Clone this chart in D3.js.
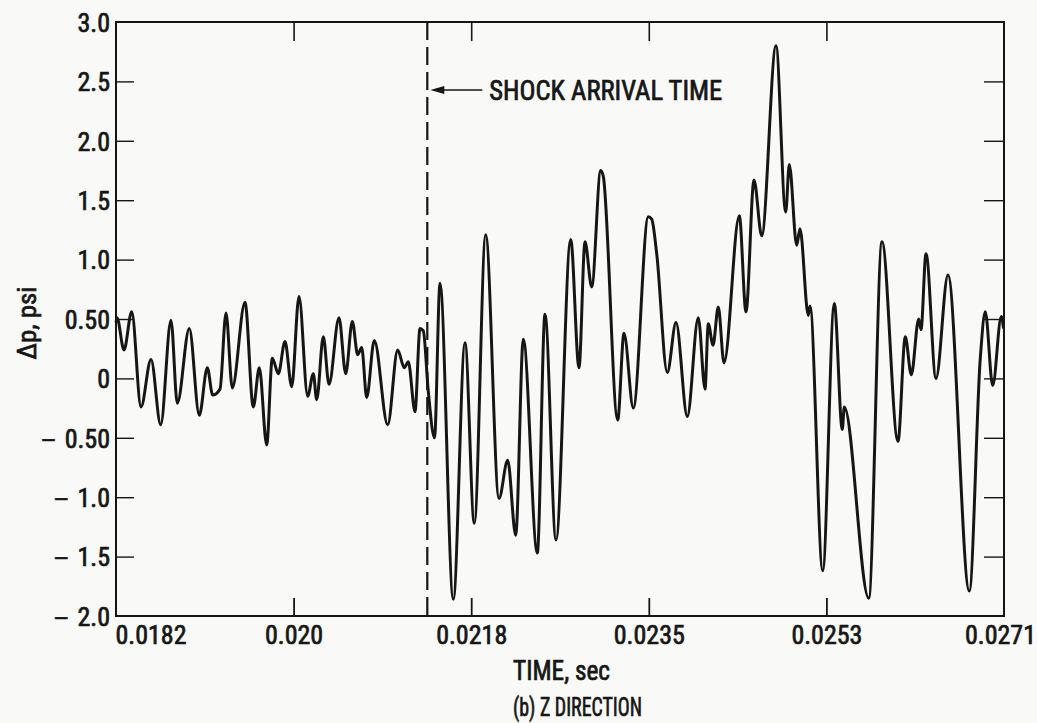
<!DOCTYPE html>
<html><head><meta charset="utf-8">
<script src="https://cdn.jsdelivr.net/npm/d3@7"></script>
<style>
body{margin:0;background:#f9f9f7}
text{font-family:'Roboto Condensed','Liberation Sans Narrow','DejaVu Sans Condensed',sans-serif;fill:#161616;font-weight:normal;stroke:#161616;stroke-width:0.7px}
</style>
</head><body>
<svg id="c" width="1037" height="723"></svg>
<script>
// ---- data ----
const timeSec = [0.0182000,0.0182100,0.0182802,0.0183574,0.0184506,0.0185508,0.0186480,0.0187512,0.0188144,0.0189346,
0.0190349,0.0191151,0.0191692,0.0192423,0.0193025,0.0193656,0.0194929,0.0195761,0.0196362,0.0197104,
0.0197665,0.0198267,0.0198938,0.0199610,0.0200341,0.0201213,0.0201774,0.0202115,0.0202777,0.0203348,
0.0204350,0.0205022,0.0205683,0.0206224,0.0206625,0.0207126,0.0207888,0.0209231,0.0210233,0.0210895,
0.0211296,0.0211967,0.0212468,0.0212799,0.0213300,0.0213922,0.0214473,0.0215806,0.0216979,0.0217911,
0.0219053,0.0220386,0.0221258,0.0222060,0.0222822,0.0224225,0.0224997,0.0226099,0.0227572,0.0228404,
0.0229006,0.0229677,0.0230579,0.0230840,0.0232283,0.0232914,0.0233846,0.0235350,0.0235691,0.0236192,
0.0237254,0.0238126,0.0239259,0.0240361,0.0241033,0.0241363,0.0241834,0.0242366,0.0242937,0.0244470,
0.0245142,0.0245944,0.0246715,0.0248149,0.0249121,0.0249481,0.0250223,0.0250554,0.0251386,0.0251556,
0.0252829,0.0253992,0.0254793,0.0254994,0.0257439,0.0258772,0.0260376,0.0261107,0.0261708,0.0262450,
0.0262681,0.0263182,0.0264184,0.0265387,0.0267522,0.0268624,0.0269125,0.0269867,0.0270729,0.0270950];
const deltaPsi = [0.47,0.51,0.24,0.56,-0.24,0.16,-0.39,0.49,-0.21,0.42,
-0.31,0.09,-0.14,-0.09,0.55,-0.08,0.64,-0.24,0.09,-0.56,
0.17,0.04,0.31,-0.07,0.69,-0.15,0.04,-0.18,0.35,-0.05,
0.51,0.04,0.48,0.20,0.26,-0.16,0.32,-0.39,0.24,0.09,
0.14,-0.28,0.42,0.40,-0.11,-0.50,0.80,-1.86,0.30,-1.22,
1.21,-1.01,-0.69,-1.32,0.33,-1.47,0.54,-1.36,1.17,0.09,
1.15,0.77,1.75,1.70,-0.35,0.38,-0.25,1.36,1.34,1.05,
0.05,0.47,-0.32,0.51,-0.09,0.46,0.28,0.60,0.13,1.37,
0.56,1.67,1.20,2.80,1.40,1.80,1.12,1.26,0.53,0.61,
-1.62,0.63,-0.43,-0.24,-1.85,1.15,-0.53,0.35,0.03,0.50,
0.41,1.05,0.00,0.87,-1.79,0.17,0.56,-0.06,0.52,0.42];
const xTickValues = [0.0182,0.01998,0.02176,0.02354,0.02532,0.0271];
const xTickLabels = ["0.0182","0.020","0.0218","0.0235","0.0253","0.0271"];
const yTickValues = [-2,-1.5,-1,-0.5,0,0.5,1,1.5,2,2.5,3];
const yTickLabels = ["\u2212 2.0","\u2212 1.5","\u2212 1.0","\u2212 0.50","0","0.50","1.0","1.5","2.0","2.5","3.0"];
const shockTime = 0.02132;
const shockLabel = "SHOCK ARRIVAL TIME";
const xTitle = "TIME, sec";
const caption = "(b) Z DIRECTION";
const yTitle = "\u0394p, psi";

// ---- layout ----
const L = 116, R = 1004, T = 22, B = 616;
const svg = d3.select("#c");
const x = d3.scaleLinear().domain([0.0182, 0.0271]).range([L, R]);
const y = d3.scaleLinear().domain([-2, 3]).range([B, T]);
const ink = "#161616";

// frame
svg.append("rect").attr("x", L).attr("y", T).attr("width", R - L).attr("height", B - T)
  .attr("fill", "none").attr("stroke", ink).attr("stroke-width", 2);

const innerX = xTickValues.slice(1, -1);
const innerY = yTickValues.slice(1, -1);

// bottom axis
const gb = svg.append("g").attr("transform", `translate(0,${B})`)
  .call(d3.axisBottom(x).tickValues(xTickValues).tickFormat((d, i) => xTickLabels[i])
    .tickSizeInner(-18).tickSizeOuter(0).tickPadding(10));
gb.select(".domain").remove();
gb.selectAll(".tick line").attr("stroke", ink).attr("stroke-width", 1.8)
  .style("display", d => innerX.includes(d) ? null : "none");
gb.selectAll(".tick text").attr("font-size", 26).attr("fill", ink)
  .attr("text-anchor", (d, i) => i === 0 ? "start" : "middle")
  .attr("x", (d, i) => i === 0 ? -1 : (i === xTickValues.length - 1 ? -4 : 0));

// top axis
const gt = svg.append("g").attr("transform", `translate(0,${T})`)
  .call(d3.axisTop(x).tickValues(innerX).tickFormat("").tickSizeInner(-19).tickSizeOuter(0));
gt.select(".domain").remove();
gt.selectAll(".tick line").attr("stroke", ink).attr("stroke-width", 1.6);

// left axis
const gl = svg.append("g").attr("transform", `translate(${L},0)`)
  .call(d3.axisLeft(y).tickValues(yTickValues).tickFormat("")
    .tickSizeInner(-18).tickSizeOuter(0));
gl.select(".domain").remove();
gl.selectAll(".tick line").attr("stroke", ink).attr("stroke-width", 1.4)
  .style("display", d => innerY.includes(d) ? null : "none");
gl.selectAll(".tick").each(function (d, i) {
  const lab = yTickLabels[i];
  const t = d3.select(this).append("text").attr("x", -6).attr("dy", "0.36em")
    .attr("font-size", 26).attr("text-anchor", "end").attr("fill", ink);
  if (lab.startsWith("\u2212")) {
    t.append("tspan").attr("font-size", 22).text("\u2014");
    t.append("tspan").attr("dx", 9).text(lab.slice(2));
  } else {
    t.text(lab);
  }
});

// right axis
const gr = svg.append("g").attr("transform", `translate(${R},0)`)
  .call(d3.axisRight(y).tickValues(innerY).tickFormat("").tickSizeInner(-20).tickSizeOuter(0));
gr.select(".domain").remove();
gr.selectAll(".tick line").attr("stroke", ink).attr("stroke-width", 1.4);

// shock arrival dashed line
svg.append("line").attr("x1", x(shockTime)).attr("x2", x(shockTime)).attr("y1", T).attr("y2", B)
  .attr("stroke", ink).attr("stroke-width", 2.2).attr("stroke-dasharray", "18,7");

// arrow + label
const ay = 90, ax = x(shockTime) + 3;
svg.append("line").attr("x1", ax + 8).attr("x2", ax + 52).attr("y1", ay).attr("y2", ay)
  .attr("stroke", ink).attr("stroke-width", 1.6);
svg.append("path").attr("d", `M${ax},${ay} L${ax + 14},${ay - 4} L${ax + 14},${ay + 4} Z`).attr("fill", ink);
svg.append("text").attr("x", ax + 59).attr("y", ay + 10).attr("font-size", 27)
  .attr("textLength", 233).attr("lengthAdjust", "spacingAndGlyphs").text(shockLabel);

// data curve
const idx = d3.range(timeSec.length);
const line = d3.line().x(i => x(timeSec[i])).y(i => y(deltaPsi[i])).curve(d3.curveMonotoneX);
svg.append("path").attr("d", line(idx)).attr("fill", "none").attr("stroke", ink)
  .attr("stroke-width", 3).attr("stroke-linejoin", "round");

// titles
svg.append("text").attr("x", 513).attr("y", 680).attr("font-size", 27)
  .attr("textLength", 97).attr("lengthAdjust", "spacingAndGlyphs").text(xTitle);
svg.append("text").attr("x", 513).attr("y", 716).attr("font-size", 26)
  .attr("textLength", 129).attr("lengthAdjust", "spacingAndGlyphs").text(caption);
svg.append("text").attr("transform", "translate(36,323) rotate(-90)").attr("text-anchor", "middle")
  .attr("font-size", 26).attr("textLength", 73).attr("lengthAdjust", "spacingAndGlyphs").text(yTitle);
</script>
</body></html>
